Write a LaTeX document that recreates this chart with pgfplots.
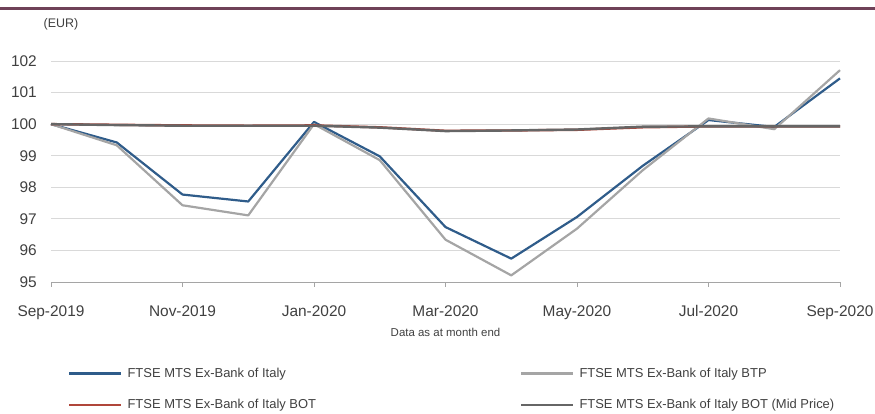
\documentclass[border=0pt]{standalone}
\usepackage{pgfplots}
\pgfplotsset{compat=1.18}
\usepackage{pgfplotstable}
\usepackage{fontspec}
\setmainfont{Liberation Sans}

\definecolor{exblue}{HTML}{2F5C8A}
\definecolor{btpgrey}{HTML}{A5A5A5}
\definecolor{botred}{HTML}{B0463A}
\definecolor{midgrey}{HTML}{666666}
\definecolor{topline}{HTML}{6F4158}
\definecolor{gridgrey}{HTML}{D9D9D9}
\definecolor{txt}{HTML}{404040}

% month index: 0 = Sep-2019 ... 12 = Sep-2020
\pgfplotstableread{
m   exbank  btp     bot    mid
0   100.00  100.00  100.00 100.00
1   99.42   99.33   99.98  99.97
2   97.77   97.43   99.96  99.95
3   97.55   97.11   99.95  99.95
4   100.07  100.00  99.96  99.95
5   98.98   98.86   99.90  99.89
6   96.74   96.34   99.79  99.78
7   95.74   95.21   99.80  99.80
8   97.06   96.69   99.82  99.83
9   98.68   98.54   99.90  99.92
10  100.13  100.18  99.93  99.93
11  99.91   99.84   99.93  99.93
12  101.45  101.71  99.93  99.93
}\prices

\begin{document}
\begin{tikzpicture}
\path[use as bounding box] (0,0) rectangle (875bp,414bp);
\draw[topline, line width=2.2bp] (0,405.5bp) -- (875bp,405.5bp);
\begin{axis}[
  at={(51bp,132bp)}, anchor=south west,
  scale only axis,
  width=789bp, height=221bp,
  xmin=0, xmax=12, ymin=95, ymax=102,
  xtick={0,2,...,12},
  xticklabels={Sep-2019,Nov-2019,Jan-2020,Mar-2020,May-2020,Jul-2020,Sep-2020},
  ytick={95,...,102},
  axis x line*=bottom,
  axis y line*=left,
  x axis line style={draw=btpgrey, line width=0.9bp, -},
  y axis line style={draw=none},
  tick align=outside,
  major tick length=5bp,
  xtick style={draw=btpgrey, line width=0.9bp},
  ytick style={draw=none},
  ymajorgrids,
  grid style={gridgrey, line width=0.9bp},
  /pgf/number format/assume math mode=true,
  ticklabel style={font=\fontsize{15.5}{18}\selectfont, text=txt, inner sep=0pt},
  xticklabel style={anchor=base, yshift=-29.5bp},
  yticklabel style={anchor=east, xshift=-14bp+5bp},
  xlabel={Data as at month end},
  xlabel style={at={(axis description cs:0.5,-0.229)}, anchor=center,
    font=\fontsize{11.5}{14}\selectfont, text=txt},
  clip=false,
  legend columns=2,
  legend cell align=left,
  legend image code/.code={\draw[#1, line width=2.4bp] (0bp,0bp) -- (52bp,0bp);},
  legend style={draw=none, fill=none, inner sep=0pt,
    at={(axis description cs:0.0215,-0.38)}, anchor=north west,
    font=\fontsize{13}{15}\selectfont, text=txt,
    nodes={inner xsep=5bp, inner ysep=2bp},
    row sep=16.5bp,
    /tikz/every even column/.append style={column sep=199bp}},
  line join=round,
]
\addplot[exblue, line width=2.2bp] table[x=m, y=exbank] {\prices};
\addlegendentry{FTSE MTS Ex-Bank of Italy}
\addplot[btpgrey, line width=2.2bp] table[x=m, y=btp] {\prices};
\addlegendentry{FTSE MTS Ex-Bank of Italy BTP}
\addplot[botred, line width=2.4bp] table[x=m, y=bot] {\prices};
\addlegendentry{FTSE MTS Ex-Bank of Italy BOT}
\addplot[midgrey, line width=2.4bp] table[x=m, y=mid] {\prices};
\addlegendentry{FTSE MTS Ex-Bank of Italy BOT (Mid Price)}
\node[font=\fontsize{12.5}{14}\selectfont, text=txt] at (axis description cs:0.0127,1.167) {(EUR)};
\end{axis}
\end{tikzpicture}
\end{document}
